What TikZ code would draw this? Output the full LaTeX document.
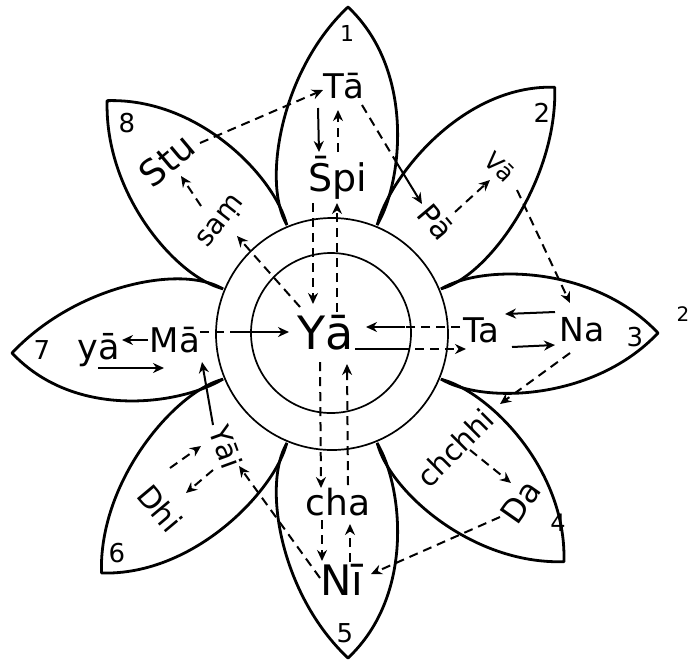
\documentclass[tikz,border=0pt]{standalone}
\usepackage{fontspec}
\setmainfont{DejaVu Sans}
\usetikzlibrary{arrows.meta}
\newcommand\petal[3]{\begin{scope}[shift={(332,334)},rotate=-#1]
\draw[petal] (-45,-109) .. controls (-70,-150) and ({#2-68},{-#3+64}) .. (#2,-#3) .. controls ({#2+68},{-#3+64}) and (70,-150) .. (45,-109);
\end{scope}}
\begin{document}
\begin{tikzpicture}[x=1pt,y=-1pt,
 petal/.style={line width=2.8pt, line join=round},
 circ/.style={line width=1.7pt},
 con/.style={line width=2pt, -{Stealth[length=11pt,width=10pt]}},
 sol/.style={line width=2pt},
 dsh/.style={line width=2pt, dash pattern=on 9pt off 6pt},
 dcon/.style={con, dash pattern=on 9pt off 6pt},
 lbl/.style={inner sep=0pt, font=\fontsize{#1}{#1}\selectfont}]
\useasboundingbox (0,0) rectangle (690,665);
% petals
\petal{0}{16}{327}
\petal{45}{-17}{332}
\petal{90}{-1}{326}
\petal{135}{-3}{325}
\petal{180}{-16}{324}
\petal{225}{-6}{332}
\petal{270}{-19}{320}
\petal{315}{6}{324}
% circles
\draw[circ] (332,334) circle[radius=116pt];
\draw[circ] (331,333) circle[radius=80pt];
% labels
\node[lbl=46] (ya) at (326,333) {Yā};
\node[lbl=34] (ta1) at (344,86) {Tā};
\node[lbl=38] (spi) at (338,178) {S̄pi};
\node[lbl=30, rotate=-50] (pa) at (436,222) {Pā};
\node[lbl=24, rotate=-45] (va) at (500,167) {Vā};
\node[lbl=34] (ta3) at (481,330) {Ta};
\node[lbl=33] (na) at (582,330) {Na};
\node[lbl=29, rotate=45] (chh) at (455,448) {chchhi};
\node[lbl=32, rotate=55] (da) at (521,502) {Da};
\node[lbl=36] (cha) at (338,502) {cha};
\node[lbl=42] (ni) at (342,580) {Nī};
\node[lbl=29, rotate=-70] (yai) at (226,447) {Yāi};
\node[lbl=30, rotate=-50] (dhi) at (160,508) {Dhi};
\node[lbl=35] (ya7) at (99,350) {yā};
\node[lbl=34] (ma) at (175,340) {Mā};
\node[lbl=36, rotate=40] (stu) at (167,160) {Stu};
\node[lbl=28, rotate=52] (sam) at (222,222) {saṃ};
% petal numbers
\node[lbl=22] (n1) at (347,33) {1};
\node[lbl=26] (n2) at (542,113) {2};
\node[lbl=26] (n3) at (635,337) {3};
\node[lbl=24] (n4) at (558,523) {4};
\node[lbl=26] (n5) at (345,633) {5};
\node[lbl=26] (n6) at (117,553) {6};
\node[lbl=26] (n7) at (42,350) {7};
\node[lbl=26] (n8) at (127,123) {8};
\node[lbl=20] (fn) at (683,314) {2};
% connector end points
\coordinate (a1s) at (200,143); \coordinate (a1e) at (323,90);
\coordinate (a2s) at (318,108); \coordinate (a2e) at (319,152);
\coordinate (a3s) at (338,152); \coordinate (a3e) at (338,110);
\coordinate (a4s) at (313,203); \coordinate (a4e) at (313,304);
\coordinate (a5s) at (337,312); \coordinate (a5e) at (337,203);
\coordinate (a6s) at (362,105); \coordinate (a6m) at (395,160); \coordinate (a6e) at (422,204);
\coordinate (a7s) at (455,212); \coordinate (a7e) at (490,180);
\coordinate (a8s) at (517,190); \coordinate (a8e) at (570,303);
\coordinate (a9s) at (555,312); \coordinate (a9e) at (505,314);
\coordinate (a10s) at (512,347); \coordinate (a10e) at (555,345);
\coordinate (a11s) at (460,327); \coordinate (a11m) at (405,327); \coordinate (a11e) at (366,327);
\coordinate (a12s) at (355,349); \coordinate (a12m) at (400,349); \coordinate (a12e) at (466,349);
\coordinate (a13s) at (570,353); \coordinate (a13e) at (500,404);
\coordinate (a14s) at (470,450); \coordinate (a14e) at (511,483);
\coordinate (a15s) at (500,517); \coordinate (a15e) at (371,574);
\coordinate (a16s) at (320,362); \coordinate (a16e) at (321,488);
\coordinate (a17s) at (322,520); \coordinate (a17e) at (322,561);
\coordinate (a18s) at (350,562); \coordinate (a18e) at (350,524);
\coordinate (a19s) at (348,485); \coordinate (a19e) at (347,364);
\coordinate (a20s) at (320,578); \coordinate (a20e) at (239,466);
\coordinate (a21s) at (170,468); \coordinate (a21e) at (201,446);
\coordinate (a22s) at (213,470); \coordinate (a22e) at (186,493);
\coordinate (a23s) at (213,425); \coordinate (a23e) at (202,362);
\coordinate (a24s) at (200,332); \coordinate (a24m) at (232,332); \coordinate (a24e) at (289,332);
\coordinate (a25s) at (148,340); \coordinate (a25e) at (122,340);
\coordinate (a26s) at (98,368); \coordinate (a26e) at (164,368);
\coordinate (a27s) at (300,307); \coordinate (a27e) at (237,236);
\coordinate (a28s) at (201,206); \coordinate (a28e) at (181,176);
% connectors
\draw[dcon] (a1s) -- (a1e);
\draw[con] (a2s) -- (a2e);
\draw[dcon] (a3s) -- (a3e);
\draw[dcon] (a4s) -- (a4e);
\draw[dcon] (a5s) -- (a5e);
\draw[dsh] (a6s) -- (a6m); \draw[con] (a6m) -- (a6e);
\draw[dcon] (a7s) -- (a7e);
\draw[dcon] (a8s) -- (a8e);
\draw[con] (a9s) -- (a9e);
\draw[con] (a10s) -- (a10e);
\draw[dsh] (a11s) -- (a11m); \draw[con] (a11m) -- (a11e);
\draw[sol] (a12s) -- (a12m); \draw[dcon] (a12m) -- (a12e);
\draw[dcon] (a13s) -- (a13e);
\draw[dcon] (a14s) -- (a14e);
\draw[dcon] (a15s) -- (a15e);
\draw[dcon] (a16s) -- (a16e);
\draw[dcon] (a17s) -- (a17e);
\draw[dcon] (a18s) -- (a18e);
\draw[dcon] (a19s) -- (a19e);
\draw[dcon] (a20s) -- (a20e);
\draw[dcon] (a21s) -- (a21e);
\draw[dcon] (a22s) -- (a22e);
\draw[con] (a23s) -- (a23e);
\draw[dsh] (a24s) -- (a24m); \draw[con] (a24m) -- (a24e);
\draw[con] (a25s) -- (a25e);
\draw[con] (a26s) -- (a26e);
\draw[dcon] (a27s) -- (a27e);
\draw[dcon] (a28s) -- (a28e);
\end{tikzpicture}
\end{document}
